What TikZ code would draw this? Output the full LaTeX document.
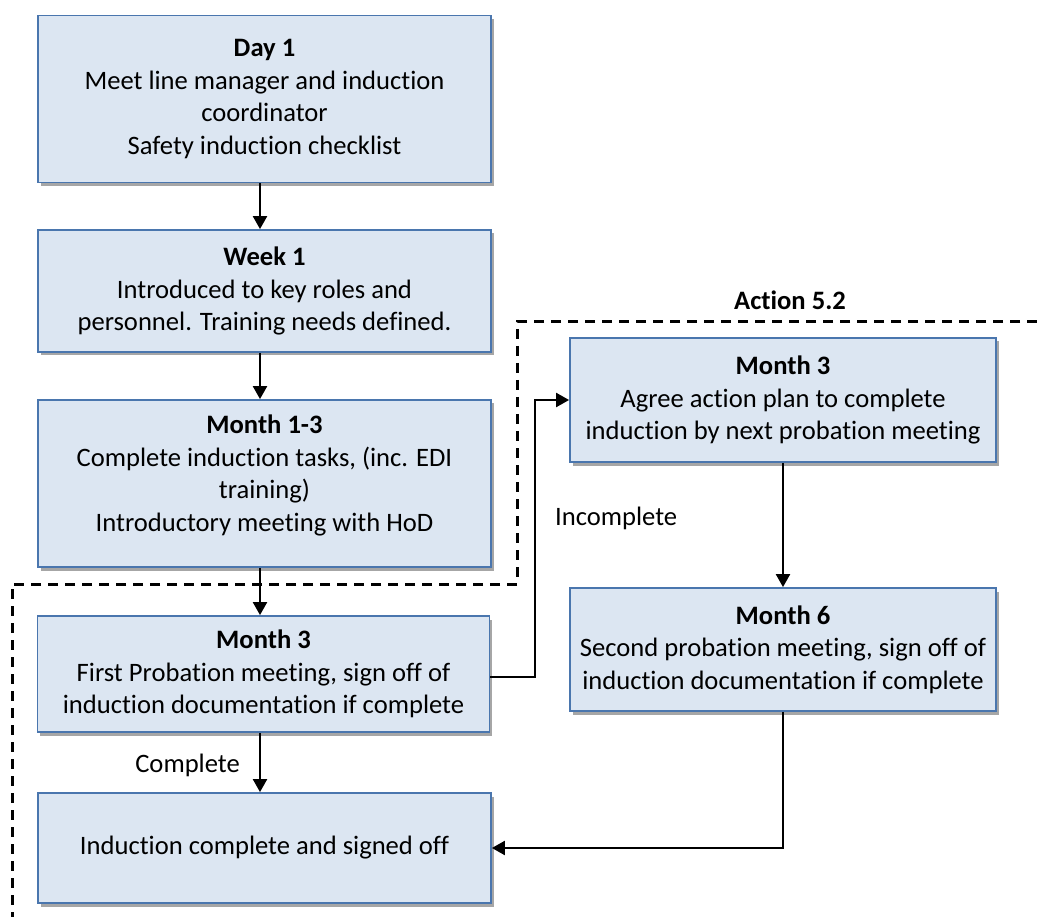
\documentclass[tikz,border=0pt]{standalone}
\usepackage{fontspec}
\setmainfont[Ligatures=NoCommon]{Carlito}
\usetikzlibrary{arrows.meta}
\definecolor{boxfill}{HTML}{DCE6F2}
\definecolor{boxline}{HTML}{4A76AE}
\definecolor{shade}{HTML}{A6A6A6}
\begin{document}
\begin{tikzpicture}[x=1pt,y=-1pt,
  stage/.style={draw=boxline, line width=1.8pt, fill=boxfill, align=center,
    inner sep=0pt, font=\fontsize{26.6}{32.5}\selectfont,
    preaction={draw=none, fill=shade, transform canvas={xshift=2.5pt,yshift=-3.5pt}}},
  flow/.style={line width=2.2pt, -{Triangle[length=13pt,width=14pt]}},
  group/.style={line width=3pt, dash pattern=on 10pt off 7pt},
  lbl/.style={font=\fontsize{26.6}{30}\selectfont, inner sep=0pt}]
\useasboundingbox (0,0) rectangle (1037,917);

% left column
\node[stage, minimum width=453pt, minimum height=167pt] (day1) at (264.5,99)
  {\textbf{Day 1}\\Meet line manager and induction\\coordinator\\Safety induction checklist};
\node[stage, minimum width=453pt, minimum height=122pt] (week1) at (264.5,291)
  {\textbf{Week 1}\\Introduced to key roles and\\personnel. Training needs defined.};
\node[stage, minimum width=453pt, minimum height=167pt] (m13) at (264.5,483.5)
  {\textbf{Month 1-3}\\Complete induction tasks, (inc. EDI\\training)\\Introductory meeting with HoD\\[-12pt]\mbox{}};
\node[stage, minimum width=452pt, minimum height=116pt] (m3a) at (263.5,674)
  {\textbf{Month 3}\\First Probation meeting, sign off of\\induction documentation if complete};
\node[stage, minimum width=453pt, minimum height=110pt] (done) at (264.5,848)
  {Induction complete and signed off};

% right column
\node[stage, minimum width=426pt, minimum height=124pt] (m3b) at (783,400)
  {\textbf{Month 3}\\Agree action plan to complete\\induction by next probation meeting};
\node[stage, minimum width=426pt, minimum height=123pt] (m6) at (783,649.5)
  {\textbf{Month 6}\\Second probation meeting, sign off of\\induction documentation if complete};

% dashed boundary of the action group
\coordinate (g1) at (1037,322);
\coordinate (g2) at (517,322);
\coordinate (g3) at (517,584);
\coordinate (g4) at (12,584);
\coordinate (g5) at (12,917);
\draw[group] (g1) -- (g2) -- (g3) -- (g4) -- (g5);
\node[lbl, font=\fontsize{26.6}{30}\selectfont\bfseries] (act) at (790,300) {Action 5.2};

% connectors
\draw[flow] (day1.south -| 260,0) -- (week1.north -| 260,0);
\draw[flow] (week1.south -| 260,0) -- (m13.north -| 260,0);
\draw[flow] (m13.south -| 260,0) -- (m3a.north -| 260,0);
\draw[flow] (m3a.south -| 260,0) -- (done.north -| 260,0);
\node[lbl, anchor=east] (cpl) at (240,765) {Complete};
\draw[flow] (m3a.east |- 0,677) -- (535,677) -- (535,400) -- (m3b.west);
\node[lbl, anchor=west] (inc) at (555,518) {Incomplete};
\draw[flow] (m3b.south) -- (m6.north);
\draw[flow] (m6.south) -- (783,848) -- (done.east);
\end{tikzpicture}
\end{document}
